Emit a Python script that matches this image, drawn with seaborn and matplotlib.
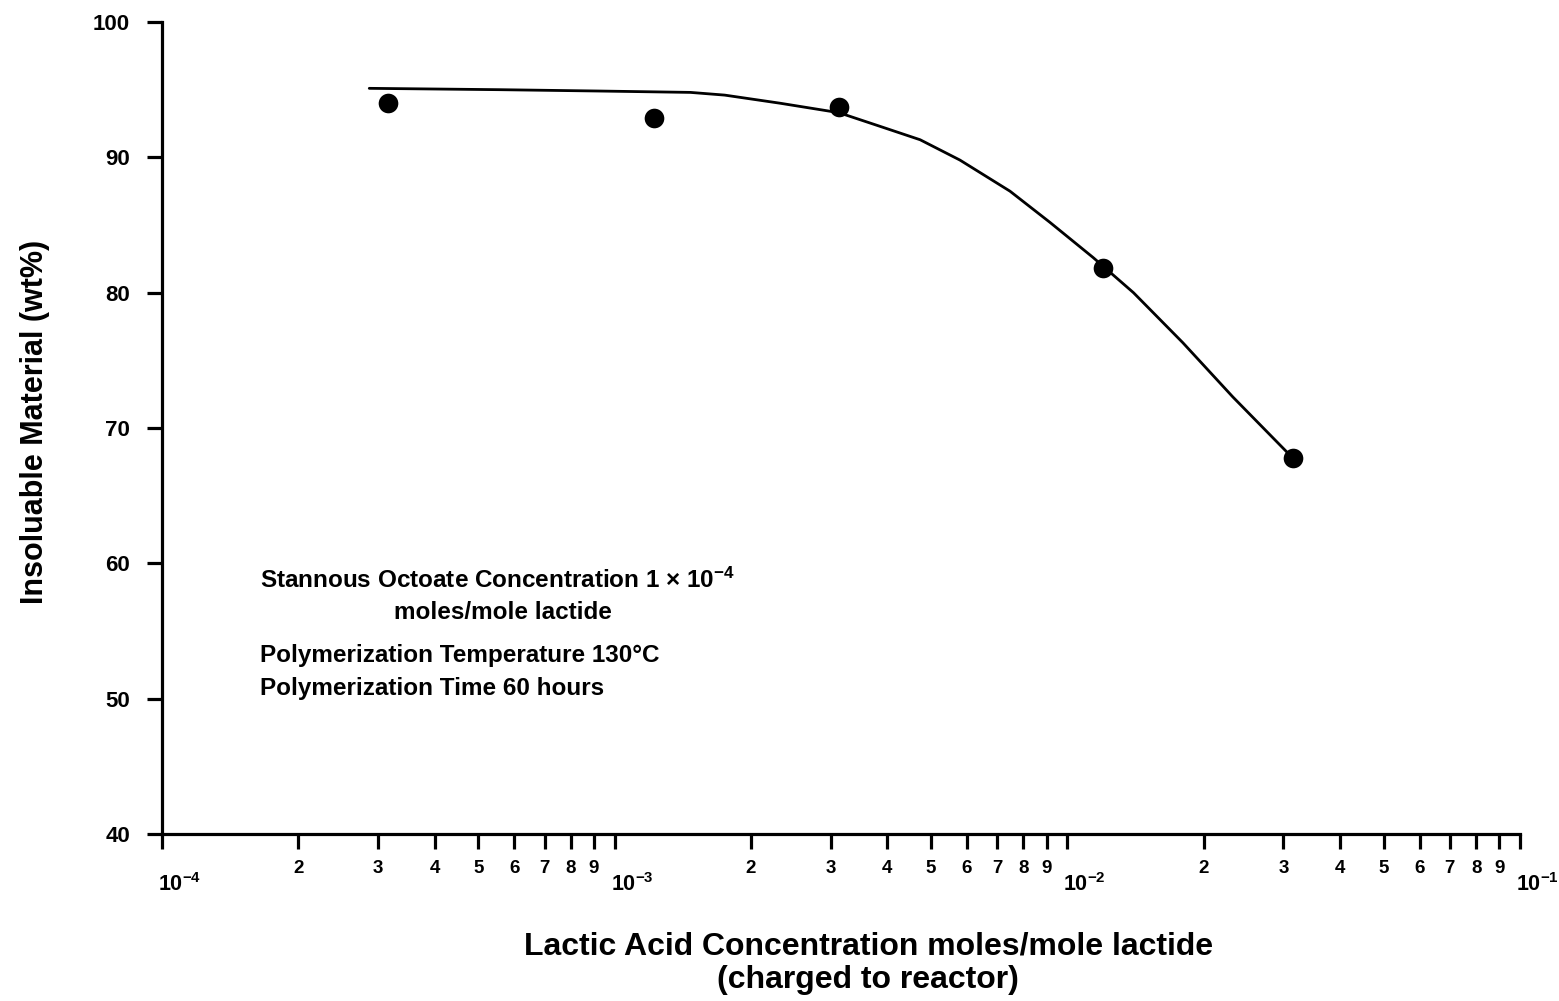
import matplotlib
matplotlib.use("Agg")
import matplotlib.pyplot as plt
from matplotlib.transforms import ScaledTranslation
import pandas as pd
import seaborn as sns

# Measured samples: lactic acid charged (mol/mol lactide) vs. insoluble fraction
lactic_acid = [3.16e-4, 1.22e-3, 3.13e-3, 1.20e-2, 3.15e-2]
insoluble = [94.0, 92.9, 93.7, 81.8, 67.8]

# Hand-drawn trend curve through the samples
curve_x = [2.87e-4, 5.58e-4, 9.28e-4, 1.47e-3, 1.75e-3, 2.32e-3, 3.13e-3, 3.85e-3,
           4.73e-3, 5.79e-3, 7.47e-3, 9.15e-3, 1.14e-2, 1.40e-2, 1.80e-2, 2.32e-2, 3.06e-2]
curve_y = [95.1, 95.0, 94.9, 94.8, 94.6, 94.0, 93.3, 92.3,
           91.3, 89.8, 87.5, 85.2, 82.6, 80.0, 76.3, 72.3, 68.2]

y_ticks = [40, 50, 60, 70, 80, 90, 100]
decades = [1e-4, 1e-3, 1e-2, 1e-1]
decade_labels = [r"$10^{-4}$", r"$10^{-3}$", r"$10^{-2}$", r"$10^{-1}$"]
sub_digits = [2, 3, 4, 5, 6, 7, 8, 9]

note_lines = [
    "Stannous Octoate Concentration 1 \u00d7 10$^{-4}$",
    "moles/mole lactide",
    "Polymerization Temperature 130\u00b0C",
    "Polymerization Time 60 hours",
]
x_title = "Lactic Acid Concentration moles/mole lactide\n(charged to reactor)"
y_title = "Insoluable Material (wt%)"

sns.set_style("white")
plt.rcParams["font.family"] = ["Liberation Sans", "DejaVu Sans"]
plt.rcParams["font.weight"] = "bold"
plt.rcParams["text.color"] = "black"
plt.rcParams["axes.labelcolor"] = "black"
plt.rcParams["xtick.color"] = "black"
plt.rcParams["ytick.color"] = "black"
plt.rcParams["mathtext.fontset"] = "custom"
plt.rcParams["mathtext.rm"] = "Liberation Sans:bold"
plt.rcParams["mathtext.bf"] = "Liberation Sans:bold"
plt.rcParams["mathtext.it"] = "Liberation Sans:bold"
plt.rcParams["mathtext.default"] = "rm"

fig = plt.figure(figsize=(15.59, 10.01), dpi=100)
ax = fig.add_axes([0.1039, 0.1668, 0.8711, 0.8112])

points = pd.DataFrame({"acid": lactic_acid, "insoluble": insoluble})
trend = pd.DataFrame({"acid": curve_x, "insoluble": curve_y})

sns.lineplot(data=trend, x="acid", y="insoluble", sort=False, estimator=None,
             color="black", linewidth=2.0, ax=ax)
sns.scatterplot(data=points, x="acid", y="insoluble", s=200, color="black",
                edgecolor="black", linewidth=0, ax=ax, zorder=3)

ax.set_xscale("log")
ax.set_xlim(1e-4, 1e-1)
ax.set_ylim(40, 100)

for side in ("top", "right"):
    ax.spines[side].set_visible(False)
for side in ("left", "bottom"):
    ax.spines[side].set_linewidth(2.3)
    ax.spines[side].set_color("black")

ax.set_yticks(y_ticks)
ax.set_yticklabels([str(v) for v in y_ticks], fontsize=16, fontweight="bold")

minor_pos = [d * s for d in decades[:-1] for s in sub_digits]
minor_lab = [str(s) for d in decades[:-1] for s in sub_digits]
ax.set_xticks(decades)
ax.set_xticklabels(decade_labels, fontsize=15.5, fontweight="bold", ha="left")
ax.set_xticks(minor_pos, minor=True)
ax.set_xticklabels(minor_lab, minor=True, fontsize=13.5, fontweight="bold")

ax.tick_params(axis="y", which="major", direction="out", length=11, width=2.3,
               pad=12, colors="black", left=True)
ax.tick_params(axis="x", which="major", direction="out", length=11, width=2.3,
               pad=17, colors="black", bottom=True)
ax.tick_params(axis="x", which="minor", direction="out", length=11, width=2.3,
               pad=8, colors="black", bottom=True)

# decade labels sit just right of their tick, nudged slightly left
shift = ScaledTranslation(-4 / 100, 0, fig.dpi_scale_trans)
for lbl in ax.get_xticklabels():
    lbl.set_transform(lbl.get_transform() + shift)

ax.set_xlabel(x_title, fontsize=23, fontweight="bold", linespacing=1.15)
ax.xaxis.set_label_coords(0.52, -0.12)
ax.set_ylabel(y_title, fontsize=22, fontweight="bold")
ax.yaxis.label.set_va("center")
ax.yaxis.set_label_coords(-0.0935, 0.507)

note_kw = dict(transform=ax.transAxes, fontsize=17.5, fontweight="bold", va="center")
ax.text(0.0722, 0.3128, note_lines[0], ha="left", **note_kw)
ax.text(0.2511, 0.2734, note_lines[1], ha="center", **note_kw)
ax.text(0.0722, 0.2204, note_lines[2], ha="left", **note_kw)
ax.text(0.0722, 0.1798, note_lines[3], ha="left", **note_kw)

fig.savefig("out.png", dpi=100, facecolor="white")
